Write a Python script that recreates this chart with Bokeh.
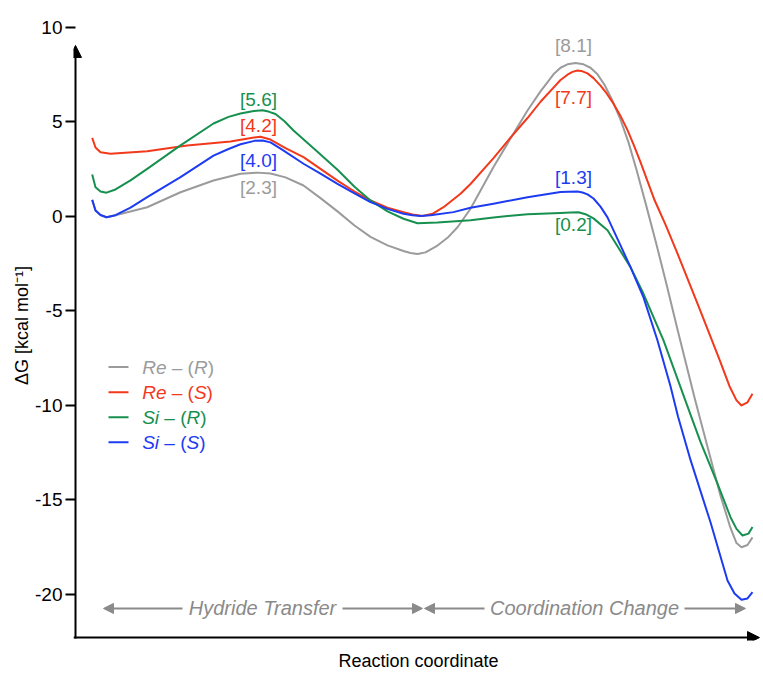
from bokeh.plotting import figure
from bokeh.models import Range1d, FixedTicker, Arrow, NormalHead, ColumnDataSource
from bokeh.core.properties import value
from bokeh.embed import file_html
from bokeh.resources import INLINE

FONT = "Liberation Sans"

# ---------------------------------------------------------------- data
series_face = ["Re", "Re", "Si", "Si"]
series_conf = ["R", "S", "R", "S"]
colors = ["#9b9b9b", "#f2391c", "#17904f", "#1d3cf2"]

# barrier heights (kcal/mol) at the hydride-transfer and coordination-change TS
ts1 = [2.3, 4.2, 5.6, 4.0]
ts2 = [8.1, 7.7, 0.2, 1.3]

re_r_x = [0.117, 0.15, 0.20, 0.26, 0.35, 0.667, 1.00, 1.33, 1.60, 1.77, 1.90, 2.05,
          2.23, 2.40, 2.57, 2.74, 2.90, 3.07, 3.23, 3.30, 3.37, 3.45, 3.57, 3.67,
          3.77, 3.90, 4.13, 4.30, 4.47, 4.60, 4.73, 4.80, 4.87, 4.95, 5.03, 5.10,
          5.17, 5.24, 5.32, 5.40, 5.48, 5.56, 5.65, 5.75, 5.86, 5.97, 6.14, 6.27,
          6.40, 6.50, 6.56, 6.61, 6.67, 6.72]
re_r_y = [0.86, 0.30, 0.06, -0.06, 0.05, 0.47, 1.26, 1.88, 2.24, ts1[0], 2.25, 2.05,
          1.62, 0.95, 0.25, -0.5, -1.1, -1.55, -1.85, -1.95, -2.0, -1.92, -1.56, -1.15,
          -0.59, 0.39, 2.6, 4.1, 5.59, 6.6, 7.5, 7.85, 8.03, ts2[0], 8.03, 7.85,
          7.5, 6.95, 6.1, 5.1, 3.9, 2.45, 0.7, -1.3, -3.6, -6.0, -9.6, -12.2,
          -14.8, -16.5, -17.3, -17.52, -17.4, -17.0]

re_s_x = [0.117, 0.15, 0.20, 0.30, 0.667, 1.067, 1.50, 1.72, 1.80, 1.90, 2.05, 2.23,
          2.40, 2.57, 2.74, 2.90, 3.07, 3.23, 3.32, 3.42, 3.52, 3.63, 3.80, 3.90,
          4.13, 4.30, 4.47, 4.60, 4.73, 4.80, 4.87, 4.92, 4.97, 5.02, 5.07, 5.13,
          5.20, 5.26, 5.33, 5.40, 5.47, 5.53, 5.60, 5.67, 5.74, 5.85, 5.96, 6.19,
          6.39, 6.49, 6.56, 6.61, 6.67, 6.72]
re_s_y = [4.14, 3.63, 3.38, 3.30, 3.43, 3.74, 3.95, 4.15, ts1[1], 4.05, 3.6, 3.12,
          2.5, 1.88, 1.3, 0.83, 0.45, 0.21, 0.08, 0.0, 0.12, 0.47, 1.18, 1.7,
          3.07, 4.15, 5.19, 6.05, 6.8, 7.2, 7.48, 7.63, ts2[1], 7.66, 7.55, 7.3,
          6.9, 6.5, 5.95, 5.3, 4.55, 3.8, 2.85, 1.85, 0.85, -0.45, -1.85, -4.9,
          -7.6, -9.0, -9.75, -10.02, -9.85, -9.4]

si_r_x = [0.117, 0.15, 0.20, 0.26, 0.35, 0.50, 0.667, 1.00, 1.33, 1.48, 1.60, 1.72,
          1.82, 1.88, 1.95, 2.04, 2.13, 2.35, 2.57, 2.74, 2.90, 3.07, 3.23, 3.37,
          3.57, 3.90, 4.13, 4.47, 4.80, 4.90, 4.98, 5.05, 5.13, 5.27, 5.37, 5.50,
          5.63, 5.83, 6.10, 6.20, 6.37, 6.50, 6.56, 6.62, 6.68, 6.72]
si_r_y = [2.2, 1.53, 1.30, 1.24, 1.41, 1.89, 2.50, 3.74, 4.90, 5.25, 5.43, 5.55,
          ts1[2], 5.53, 5.4, 5.02, 4.53, 3.5, 2.45, 1.55, 0.83, 0.25, -0.14, -0.38,
          -0.34, -0.22, -0.07, 0.10, 0.17, 0.19, ts2[2], 0.1, -0.12, -0.75, -1.6, -2.7,
          -4.11, -6.58, -10.5, -11.95, -14.16, -15.93, -16.55, -16.9, -16.8, -16.45]

si_s_x = [0.117, 0.15, 0.20, 0.26, 0.35, 0.50, 0.667, 1.00, 1.33, 1.48, 1.60, 1.74,
          1.82, 1.90, 2.02, 2.23, 2.40, 2.57, 2.74, 2.90, 3.07, 3.23, 3.32, 3.40,
          3.50, 3.73, 3.90, 4.13, 4.47, 4.80, 4.88, 4.97, 5.02, 5.07, 5.13, 5.20,
          5.27, 5.40, 5.50, 5.63, 5.77, 5.90, 5.975, 6.10, 6.30, 6.47, 6.54, 6.61,
          6.67, 6.72]
si_s_y = [0.86, 0.30, 0.06, -0.06, 0.05, 0.45, 1.0, 2.06, 3.2, 3.55, 3.8, 3.98,
          ts1[3], 3.9, 3.5, 2.77, 2.25, 1.71, 1.2, 0.74, 0.38, 0.12, 0.04, 0.0,
          0.04, 0.21, 0.44, 0.65, 1.0, 1.27, 1.29, ts2[3], 1.25, 1.15, 0.93, 0.5,
          -0.07, -1.55, -2.7, -4.3, -6.58, -9.0, -10.6, -12.9, -16.2, -19.28, -19.97, -20.30,
          -20.23, -19.9]

curves_x = [re_r_x, re_s_x, si_r_x, si_s_x]
curves_y = [re_r_y, re_s_y, si_r_y, si_s_y]

yticks = [-20, -15, -10, -5, 0, 5, 10]
ytick_labels = ["-20", "-15", "-10", "-5", "0", "5", "10"]

stage_names = ["Hydride Transfer", "Coordination Change"]

# ---------------------------------------------------------------- figure
p = figure(width=763, height=673, output_backend="svg", toolbar_location=None,
           x_range=Range1d(-0.07, 6.83), y_range=Range1d(-22.455, 10.878),
           min_border_left=73, min_border_right=0, min_border_top=10,
           min_border_bottom=33, outline_line_color=None,
           background_fill_color="white", border_fill_color="white")
p.grid.visible = False

ya = p.yaxis[0]
ya.ticker = FixedTicker(ticks=yticks)
ya.major_label_overrides = {t: s for t, s in zip(yticks, ytick_labels)}
ya.axis_line_color = None
ya.major_tick_out = 8
ya.major_tick_in = 2
ya.major_tick_line_width = 2
ya.major_tick_line_color = "black"
ya.minor_tick_line_color = None
ya.major_label_standoff = 3
ya.major_label_text_font = FONT
ya.major_label_text_font_size = "19px"
ya.major_label_text_color = "black"
ya.axis_label = "ΔG [kcal mol⁻¹]"
ya.axis_label_text_font = FONT
ya.axis_label_text_font_style = "normal"
ya.axis_label_text_font_size = "18px"
ya.axis_label_text_color = "black"
ya.axis_label_standoff = 0

xa = p.xaxis[0]
xa.ticker = FixedTicker(ticks=[])
xa.axis_line_color = None
xa.major_tick_line_color = None
xa.minor_tick_line_color = None
xa.major_label_text_font_size = "0px"
xa.axis_label = "Reaction coordinate"
xa.axis_label_text_font = FONT
xa.axis_label_text_font_style = "normal"
xa.axis_label_text_font_size = "18px"
xa.axis_label_text_color = "black"
xa.axis_label_standoff = 10

# axis lines with arrow heads
p.add_layout(Arrow(end=NormalHead(size=12, fill_color="black", line_color="black"),
                   x_start=-0.05, y_start=-22.35, x_end=-0.05, y_end=9.03,
                   line_color="black", line_width=2))
p.add_layout(Arrow(end=NormalHead(size=12, fill_color="black", line_color="black"),
                   x_start=-0.07, y_start=-22.30, x_end=6.79, y_end=-22.30,
                   line_color="black", line_width=2))

# energy profiles
for cx, cy, c in zip(curves_x, curves_y, colors):
    p.line(cx, cy, line_color=c, line_width=2, line_join="round")

# barrier labels
ts1_label_x, ts1_label_y = 1.78, [1.50, 4.79, 6.17, 2.94]
ts2_label_x, ts2_label_y = 4.93, [9.03, 6.29, -0.44, 2.06]
lab = ColumnDataSource(dict(
    x=[ts1_label_x] * 4 + [ts2_label_x] * 4,
    y=ts1_label_y + ts2_label_y,
    text=[f"[{v:.1f}]" for v in ts1 + ts2],
    color=colors + colors,
))
p.text(x="x", y="y", text="text", text_color="color", source=lab,
       text_font=value(FONT), text_font_size="19px",
       text_align="center", text_baseline="middle")

# stage arrows along the bottom
stage_y = -20.76
stage_gray = "#8a8a8a"
for (x0, x1) in [(1.02, 0.23), (2.62, 3.42), (4.04, 3.44), (6.04, 6.65)]:
    p.add_layout(Arrow(end=NormalHead(size=10, fill_color=stage_gray, line_color=stage_gray),
                       x_start=x0, y_start=stage_y, x_end=x1, y_end=stage_y,
                       line_color=stage_gray, line_width=2))
p.text(x=[1.82, 5.04], y=[stage_y, stage_y], text=stage_names,
       text_color=stage_gray, text_font=value(FONT), text_font_size="20px",
       text_font_style="italic", text_align="center", text_baseline="middle")

# legend with italic stereo descriptors
NBSP = "\u00a0"
ADV = {"R": .722, "e": .556, "S": .667, "i": .222, NBSP: .278, "–": .556,
       "(": .333, ")": .333}
LEG_PX = 19


def adv(s):
    return sum(ADV[ch] for ch in s) * LEG_PX


legend_rows_y = [-7.99, -9.32, -10.64, -11.96]
p.segment(x0=[0.28] * 4, y0=legend_rows_y, x1=[0.48] * 4, y1=legend_rows_y,
          line_color=colors, line_width=2)
for face, conf, c, ry in zip(series_face, series_conf, colors, legend_rows_y):
    pieces = [(face, "italic"), (NBSP + "–" + NBSP + "(", "normal"),
              (conf, "italic"), (")", "normal")]
    off = 0.0
    for txt, style in pieces:
        p.text(x=[0.617], y=[ry], text=[txt], x_offset=off, text_color=c,
               text_font=value(FONT), text_font_size=f"{LEG_PX}px",
               text_font_style=style, text_align="left", text_baseline="middle")
        off += adv(txt)

open("out.html", "w").write(file_html(p, INLINE))
